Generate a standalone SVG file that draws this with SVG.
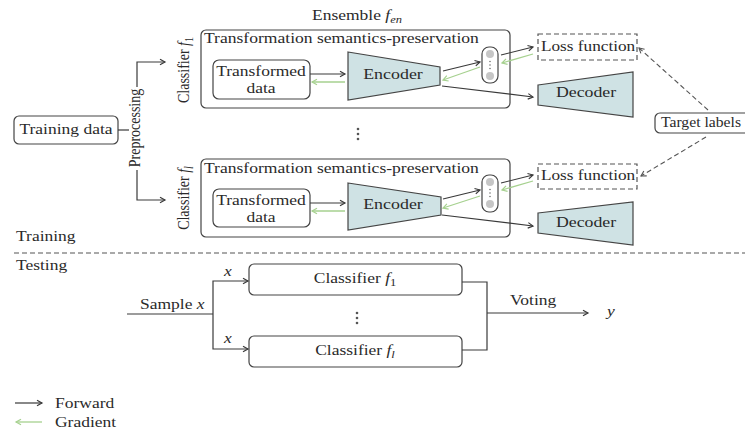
<svg xmlns="http://www.w3.org/2000/svg" width="745" height="430" viewBox="0 0 745 430">
<style>
text{font-family:"Liberation Serif","Times New Roman",serif;font-size:14px;fill:#2a2a2a}
.box{fill:#fff;stroke:#444;stroke-width:1.2}
.trap{fill:#cfe2e4;stroke:#444;stroke-width:1.2}
.ln{fill:none;stroke:#3a3a3a;stroke-width:1.2}
.gr{fill:none;stroke:#a6d18f;stroke-width:1.3}
.ds{fill:none;stroke:#555;stroke-width:1.1;stroke-dasharray:5,3}
.dbox{fill:#fff;stroke:#555;stroke-width:1.2;stroke-dasharray:5,3}
.dot{fill:#c6c6c6}
.sd{fill:#555}
.it{font-style:italic}
</style>
<defs>
<marker id="af" markerUnits="userSpaceOnUse" markerWidth="8" markerHeight="8" viewBox="0 0 8 8" refX="6" refY="4" orient="auto"><path d="M1,1.2 L6,4 L1,6.8" fill="none" stroke="#3a3a3a" stroke-width="1.2"/></marker>
<marker id="ag" markerUnits="userSpaceOnUse" markerWidth="8" markerHeight="8" viewBox="0 0 8 8" refX="6" refY="4" orient="auto"><path d="M1,1.2 L6,4 L1,6.8" fill="none" stroke="#a6d18f" stroke-width="1.2"/></marker>
<marker id="ad" markerUnits="userSpaceOnUse" markerWidth="8" markerHeight="8" viewBox="0 0 8 8" refX="6" refY="4" orient="auto"><path d="M1,1.2 L6,4 L1,6.8" fill="none" stroke="#555" stroke-width="1.1"/></marker>
</defs>

<g id="labels">
<text transform="translate(312,20) scale(1.25,1)">Ensemble <tspan class="it">f</tspan><tspan class="it" dy="3" font-size="10">en</tspan></text>
<text transform="translate(16,241) scale(1.25,1)">Training</text>
<text transform="translate(16,270) scale(1.25,1)">Testing</text>
<text transform="translate(140,128) scale(1.25,1) rotate(-90)" text-anchor="middle">Preprocessing</text>
<text transform="translate(189,70) scale(1.25,1) rotate(-90)" text-anchor="middle">Classifier <tspan class="it">f</tspan><tspan dy="3" font-size="10">1</tspan></text>
<text transform="translate(189,198) scale(1.25,1) rotate(-90)" text-anchor="middle">Classifier <tspan class="it">f</tspan><tspan class="it" dy="3" font-size="10">l</tspan></text>
<text transform="translate(140,309) scale(1.25,1)">Sample <tspan class="it">x</tspan></text>
<text class="it" transform="translate(228,276) scale(1.25,1)" text-anchor="middle">x</text>
<text class="it" transform="translate(228,343) scale(1.25,1)" text-anchor="middle">x</text>
<text transform="translate(510,305) scale(1.25,1)">Voting</text>
<text class="it" transform="translate(607,316) scale(1.25,1)">y</text>
<text transform="translate(55,408) scale(1.25,1)">Forward</text>
<text transform="translate(55,427) scale(1.25,1)">Gradient</text>
</g>

<g id="training-data">
<rect class="box" x="14" y="116" width="104" height="28" rx="5"/>
<text transform="translate(66,134) scale(1.25,1)" text-anchor="middle">Training data</text>
</g>

<g id="classifier-1">
<rect class="box" x="201" y="30" width="309" height="78" rx="5"/>
<text transform="translate(204,43) scale(1.255,1)">Transformation semantics-preservation</text>
</g>
<g id="transformed-1">
<rect class="box" x="213" y="60" width="97" height="39" rx="6"/>
<text transform="translate(261,76) scale(1.25,1)" text-anchor="middle">Transformed</text>
<text transform="translate(261,93) scale(1.25,1)" text-anchor="middle">data</text>
</g>
<g id="encoder-1">
<polygon class="trap" points="348,52 440,67 440,85 348,100"/>
<text transform="translate(393,79) scale(1.28,1)" text-anchor="middle">Encoder</text>
</g>
<g id="latent-1">
<rect class="box" x="482" y="47" width="16" height="36" rx="7"/>
<circle class="dot" cx="490" cy="54" r="4"/>
<circle class="dot" cx="490" cy="76" r="4"/>
<circle class="sd" cx="490" cy="61.5" r="0.7"/><circle class="sd" cx="490" cy="65" r="0.7"/><circle class="sd" cx="490" cy="68.5" r="0.7"/>
</g>
<g id="loss-1">
<rect class="dbox" x="538" y="34" width="99" height="26"/>
<text transform="translate(541,51) scale(1.23,1)">Loss function</text>
</g>
<g id="decoder-1">
<polygon class="trap" points="538,85 633,72 633,117 538,105"/>
<text transform="translate(586,97) scale(1.27,1)" text-anchor="middle">Decoder</text>
</g>

<g id="classifier-l">
<rect class="box" x="201" y="159" width="309" height="78" rx="5"/>
<text transform="translate(204,173) scale(1.255,1)">Transformation semantics-preservation</text>
</g>
<g id="transformed-l">
<rect class="box" x="213" y="189" width="97" height="38" rx="6"/>
<text transform="translate(261,205) scale(1.25,1)" text-anchor="middle">Transformed</text>
<text transform="translate(261,222) scale(1.25,1)" text-anchor="middle">data</text>
</g>
<g id="encoder-l">
<polygon class="trap" points="348,183 441,197 441,215 348,230"/>
<text transform="translate(393,209) scale(1.28,1)" text-anchor="middle">Encoder</text>
</g>
<g id="latent-l">
<rect class="box" x="482" y="175" width="16" height="37" rx="7"/>
<circle class="dot" cx="490" cy="182" r="4"/>
<circle class="dot" cx="490" cy="204" r="4"/>
<circle class="sd" cx="490" cy="189.5" r="0.7"/><circle class="sd" cx="490" cy="193" r="0.7"/><circle class="sd" cx="490" cy="196.5" r="0.7"/>
</g>
<g id="loss-l">
<rect class="dbox" x="538" y="164" width="99" height="25"/>
<text transform="translate(541,180) scale(1.23,1)">Loss function</text>
</g>
<g id="decoder-l">
<polygon class="trap" points="538,213 633,202 633,245 538,233"/>
<text transform="translate(586,227) scale(1.27,1)" text-anchor="middle">Decoder</text>
</g>

<g id="target-labels">
<rect class="box" x="655" y="113" width="100" height="20" rx="5"/>
<text transform="translate(661,127) scale(1.12,1)">Target labels</text>
</g>

<g id="ellipsis-train">
<circle class="sd" cx="358" cy="129" r="1.3"/><circle class="sd" cx="358" cy="134" r="1.3"/><circle class="sd" cx="358" cy="139" r="1.3"/>
</g>

<g id="test-classifier-1">
<rect class="box" x="249" y="264" width="213" height="31" rx="5"/>
<text transform="translate(355,283) scale(1.25,1)" text-anchor="middle">Classifier <tspan class="it">f</tspan><tspan dy="3" font-size="10">1</tspan></text>
</g>
<g id="test-classifier-l">
<rect class="box" x="249" y="336" width="213" height="31" rx="5"/>
<text transform="translate(355,355) scale(1.25,1)" text-anchor="middle">Classifier <tspan class="it">f</tspan><tspan class="it" dy="3" font-size="10">l</tspan></text>
</g>
<g id="ellipsis-test">
<circle class="sd" cx="357" cy="313" r="1.3"/><circle class="sd" cx="357" cy="318" r="1.3"/><circle class="sd" cx="357" cy="323" r="1.3"/>
</g>

<g id="connectors">
<path class="ln" d="M118,130 H129"/>
<path class="ln" d="M137,87 V62 H165" marker-end="url(#af)"/>
<path class="ln" d="M137,170 V200 H165" marker-end="url(#af)"/>

<path class="ln" d="M310,74 H345" marker-end="url(#af)"/>
<path class="gr" d="M345,82 H312" marker-end="url(#ag)"/>
<path class="ln" d="M443,71 L480,62" marker-end="url(#af)"/>
<path class="gr" d="M480,67 L443,80" marker-end="url(#ag)"/>
<path class="ln" d="M442,86 L533,97" marker-end="url(#af)"/>
<path class="ln" d="M501,55 L533,47" marker-end="url(#af)"/>
<path class="gr" d="M533,54 L502,63" marker-end="url(#ag)"/>

<path class="ln" d="M310,203 H345" marker-end="url(#af)"/>
<path class="gr" d="M345,211 H312" marker-end="url(#ag)"/>
<path class="ln" d="M443,199 L480,190" marker-end="url(#af)"/>
<path class="gr" d="M480,196 L443,208" marker-end="url(#ag)"/>
<path class="ln" d="M442,215 L533,226" marker-end="url(#af)"/>
<path class="ln" d="M501,183 L533,175" marker-end="url(#af)"/>
<path class="gr" d="M533,181 L502,190" marker-end="url(#ag)"/>

<path class="ds" d="M708,110 L639,48" marker-end="url(#ad)"/>
<path class="ds" d="M706,137 L641,176" marker-end="url(#ad)"/>

<path class="ds" d="M14,253 H745"/>

<path class="ln" d="M127,314 H213"/>
<path class="ln" d="M213,314 V281 H248" marker-end="url(#af)"/>
<path class="ln" d="M213,314 V349 H248" marker-end="url(#af)"/>
<path class="ln" d="M462,282 H487 V350 H462"/>
<path class="ln" d="M487,313 H588" marker-end="url(#af)"/>

<path class="ln" d="M15,403 H42" marker-end="url(#af)"/>
<path class="gr" d="M42,422 H16" marker-end="url(#ag)"/>
</g>
</svg>
